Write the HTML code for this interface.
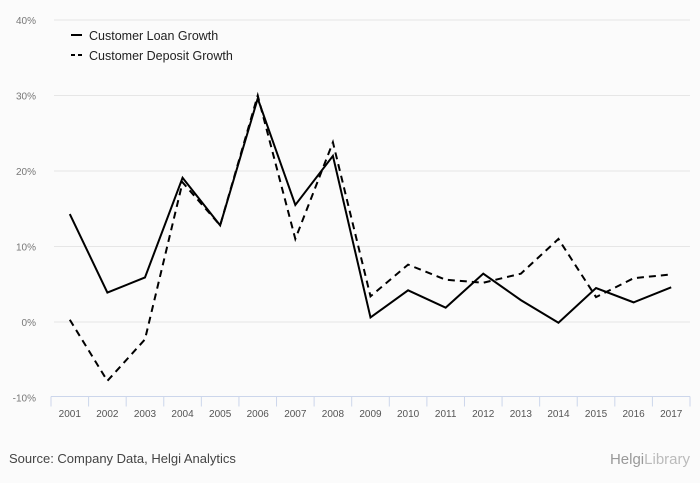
<!DOCTYPE html>
<html><head><meta charset="utf-8"><style>
body{margin:0;background:#fff}
svg{display:block;font-family:"Liberation Sans",sans-serif}
</style></head><body>
<svg width="700" height="483" id="c">
<rect x="0" y="0" width="700" height="483" fill="#fbfbfb"/>
<g id="grid"></g>
<g id="axis"></g>
<g id="lines"></g>
<g>
<g><line x1="71" y1="35" x2="82" y2="35" stroke="#000" stroke-width="2"/><text x="89" y="40" font-size="12.5" fill="#222">Customer Loan Growth</text></g>
<g><line x1="71" y1="55" x2="82" y2="55" stroke="#000" stroke-width="2" stroke-dasharray="4,3"/><text x="89" y="60" font-size="12.5" fill="#222">Customer Deposit Growth</text></g>
</g>
<text x="9" y="463" font-size="13" fill="#444">Source: Company Data, Helgi Analytics</text>
<text x="690" y="464" font-size="15" fill="#999" text-anchor="end">Helgi<tspan font-weight="normal" fill="#bbb">Library</tspan></text>
</svg>
<script>
const years=["2001","2002","2003","2004","2005","2006","2007","2008","2009","2010","2011","2012","2013","2014","2015","2016","2017"];
const loanGrowth=[14.3,3.9,5.9,19.1,12.8,29.6,15.5,22.0,0.6,4.2,1.9,6.4,2.9,-0.1,4.5,2.6,4.6];
const depositGrowth=[0.3,-7.8,-2.3,18.5,12.8,30.0,11.0,23.8,3.4,7.6,5.6,5.2,6.4,11.0,3.3,5.8,6.3];
const yTicks=[40,30,20,10,0,-10];
const NS="http://www.w3.org/2000/svg";
const x0=51,x1=690,step=(x1-x0)/years.length;
const xs=i=>x0+step*(i+0.5);
const ys=v=>322-v*7.55;
function mk(t,a,p){const e=document.createElementNS(NS,t);for(const k in a)e.setAttribute(k,a[k]);p.appendChild(e);return e;}
const grid=document.getElementById('grid'),axis=document.getElementById('axis'),lines=document.getElementById('lines');
yTicks.forEach(v=>{
 if(v>-10){const l=mk('line',{x1:x0+3,x2:x1,y1:ys(v),y2:ys(v),stroke:'#e6e6e6'},grid);
 
 }
 const t=mk('text',{x:36,y:ys(v)+4,'font-size':10,fill:'#777','text-anchor':'end'},grid);
 t.textContent=v+'%';
 
 
});
mk('line',{x1:x0,x2:x1,y1:ys(-10)-1,y2:ys(-10)-1,stroke:'#ccd6eb'},axis);
years.forEach((y,i)=>{
 mk('line',{x1:x0+step*i,x2:x0+step*i,y1:ys(-10)-1,y2:ys(-10)+9,stroke:'#ccd6eb'},axis);
 const t=mk('text',{x:xs(i),y:417,'font-size':10,fill:'#555','text-anchor':'middle'},axis);
 t.textContent=y;
 
 
});
mk('line',{x1:x1,x2:x1,y1:ys(-10)-1,y2:ys(-10)+9,stroke:'#ccd6eb'},axis);
function series(vals,dash,name){
 const p=mk('path',{d:vals.map((v,i)=>(i?'L':'M')+xs(i)+','+ys(v)).join(''),fill:'none',stroke:'#000','stroke-width':2,'stroke-dasharray':dash},lines);
 
 
}
series(depositGrowth,'7,5','deposit-growth-line');
series(loanGrowth,'none','loan-growth-line');
</script>
</body></html>
